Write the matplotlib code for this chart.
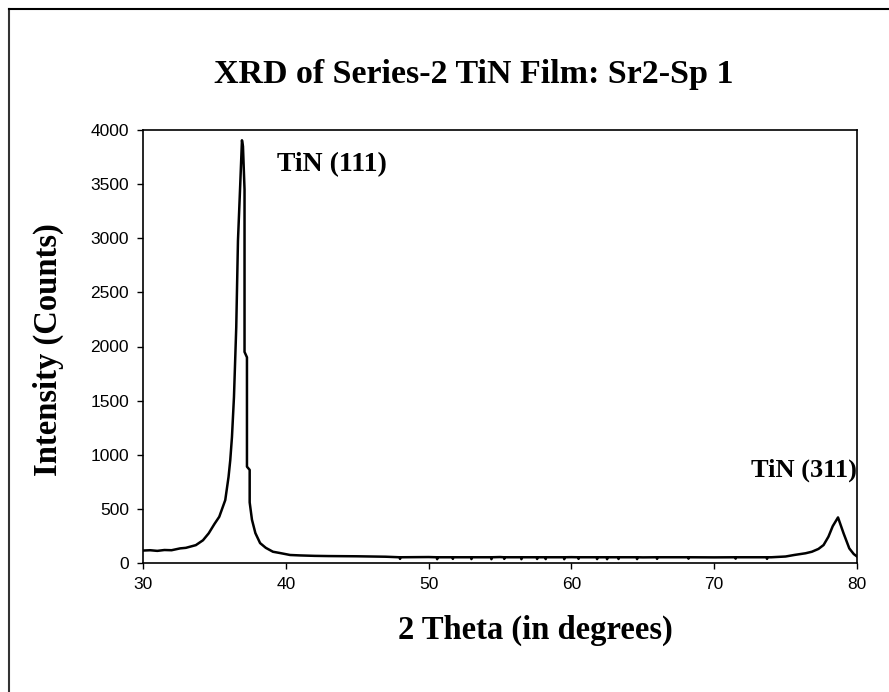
import matplotlib.pyplot as plt
from matplotlib.lines import Line2D

# XRD scan (2 theta in degrees, counts)
two_theta = [30.0, 30.5, 31.0, 31.5, 32.0, 32.6, 33.0, 33.7, 34.2, 34.6, 35.0, 35.34,
             35.76, 35.99, 36.11, 36.23, 36.37, 36.53, 36.65, 36.81, 36.93, 37.0,
             37.11, 37.11, 37.28, 37.28, 37.47, 37.47, 37.63, 37.87, 38.2, 38.6,
             39.1, 39.6, 40.3, 41.0, 42.0, 43.0, 45.0, 47.0, 50.0, 55.0, 60.0,
             65.0, 70.0, 74.0, 75.0, 75.6, 76.4, 76.84, 77.3, 77.66, 78.0, 78.3,
             78.67, 79.06, 79.46, 79.77, 80.0]
counts = [115, 118, 112, 120, 118, 135, 140, 165, 210, 274, 360, 427,
          581, 795, 949, 1164, 1533, 2178, 2977, 3500, 3905, 3850,
          3450, 1950, 1900, 890, 860, 560, 400, 276, 184, 140,
          104, 92, 74, 70, 66, 64, 62, 58, 55, 55, 54,
          52, 52, 53, 60, 74, 90, 104, 130, 166, 243, 340,
          421, 274, 135, 83, 60]

# small downward spikes seen in the flat part of the scan
dip_theta = [48.0, 50.6, 51.7, 53.0, 54.4, 55.3, 56.5, 57.6, 58.2, 59.5,
             60.5, 61.8, 62.5, 63.3, 64.6, 66.0, 68.2, 71.5, 73.7]
dip_counts = [38, 35, 38, 36, 35, 38, 35, 37, 36, 35,
              38, 36, 35, 37, 36, 38, 40, 40, 38]

x_ticks = [30, 40, 50, 60, 70, 80]
y_ticks = [0, 500, 1000, 1500, 2000, 2500, 3000, 3500, 4000]

# merge the spikes into the scan
pts = list(zip(two_theta, counts))
for d, c in zip(dip_theta, dip_counts):
    pts += [(d - 0.04, 53), (d, c), (d + 0.04, 53)]
pts.sort(key=lambda p: p[0])
xs = [p[0] for p in pts]
ys = [p[1] for p in pts]

fig = plt.figure(figsize=(8.89, 6.92), dpi=100)
ax = fig.add_axes([143 / 889, 1 - 563 / 692, 714 / 889, 433 / 692])

ax.plot(xs, ys, color='black', linewidth=1.8)

ax.set_xlim(30, 80)
ax.set_ylim(0, 4000)
ax.set_xticks(x_ticks)
ax.set_yticks(y_ticks)
ax.tick_params(direction='out', length=4, width=1, labelsize=12.5, pad=6)
for lbl in ax.get_xticklabels() + ax.get_yticklabels():
    lbl.set_fontfamily('Liberation Sans')
for sp in ax.spines.values():
    sp.set_linewidth(1.2)

serif = 'Liberation Serif'
ax.text(39.35, 3680, 'TiN (111)', fontfamily=serif, fontweight='bold', fontsize=20,
        va='center', ha='left')
ax.text(72.6, 860, 'TiN (311)', fontfamily=serif, fontweight='bold', fontsize=19,
        va='center', ha='left')

fig.text(474 / 889, 1 - 74 / 692, 'XRD of Series-2 TiN Film: Sr2-Sp 1', fontfamily=serif,
         fontweight='bold', fontsize=24.5, ha='center', va='center')
fig.text(535 / 889, 1 - 630 / 692, '2 Theta (in degrees)', fontfamily=serif,
         fontweight='bold', fontsize=23.5, ha='center', va='center')
fig.text(48 / 889, 1 - 350 / 692, 'Intensity (Counts)', fontfamily=serif,
         fontweight='bold', fontsize=23.5, ha='center', va='center', rotation=90)

# outer chart border (right and bottom edges fall outside the picture)
fig.add_artist(Line2D([8.5 / 889, 8.5 / 889], [0, 1 - 9 / 692], transform=fig.transFigure,
                      color='#333333', linewidth=1.5))
fig.add_artist(Line2D([8.5 / 889, 1], [1 - 9 / 692, 1 - 9 / 692], transform=fig.transFigure,
                      color='black', linewidth=1.5))

fig.savefig('out.png', dpi=100)
